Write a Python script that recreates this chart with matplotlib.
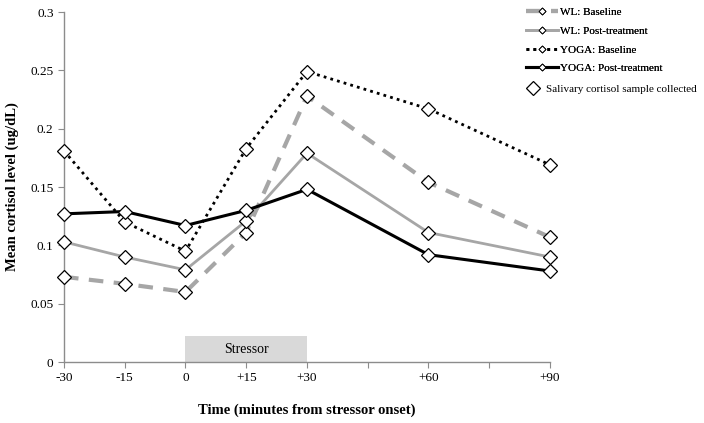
import matplotlib.pyplot as plt
from matplotlib.lines import Line2D
from matplotlib.patches import Rectangle

plt.rcParams["font.family"] = ["Liberation Serif", "DejaVu Serif"]

# Zeitpunkte (Minuten ab Stressor-Beginn)
zeit = [-30, -15, 0, 15, 30, 60, 90]
tick_pos = [-30, -15, 0, 15, 30, 45, 60, 75, 90]
tick_labels = ["-30", "-15", "0", "+15", "+30", "", "+60", "", "+90"]

# Mittelwerte Cortisol (ug/dL)
wl_baseline = [0.073, 0.067, 0.060, 0.111, 0.228, 0.154, 0.107]
wl_post = [0.103, 0.090, 0.079, 0.121, 0.179, 0.111, 0.090]
yoga_baseline = [0.181, 0.120, 0.095, 0.183, 0.249, 0.217, 0.169]
yoga_post = [0.127, 0.129, 0.117, 0.130, 0.148, 0.092, 0.078]

stressor_start, stressor_end, stressor_hoehe = 0, 30, 0.022

grau = "#a6a6a6"
achse = "#8c8c8c"

fig = plt.figure(figsize=(7.04, 4.23), dpi=100)
ax = fig.add_axes([0.0909, 0.1442, 0.6903, 0.8274])

# Stressor-Balken
ax.add_patch(Rectangle((stressor_start, 0), stressor_end - stressor_start, stressor_hoehe,
                       facecolor="#d9d9d9", edgecolor="none", zorder=1))
ax.text((stressor_start + stressor_end) / 2, stressor_hoehe / 2, "Stressor",
        ha="center", va="center", fontsize=10, zorder=2)

mk = dict(marker="D", markersize=7, markerfacecolor="white", markeredgecolor="black",
          markeredgewidth=0.9, clip_on=False, zorder=3)

ax.plot(zeit, wl_baseline, color=grau, lw=3, linestyle=(0, (3.5, 2.5)), **mk)
ax.plot(zeit, wl_post, color=grau, lw=2, linestyle="-", **mk)
ax.plot(zeit, yoga_baseline, color="black", lw=2, linestyle=(0, (1, 1.5)), **mk)
ax.plot(zeit, yoga_post, color="black", lw=2.2, linestyle="-", **mk)

ax.set_xlim(-30, 90)
ax.set_ylim(0, 0.3)
ax.set_xticks(tick_pos)
ax.set_xticklabels(tick_labels)
ax.set_yticks([0, 0.05, 0.1, 0.15, 0.2, 0.25, 0.3])
ax.set_yticklabels(["0", "0.05", "0.1", "0.15", "0.2", "0.25", "0.3"])
ax.tick_params(axis="both", labelsize=9.5, length=4, color=achse, direction="out")

for s in ["top", "right"]:
    ax.spines[s].set_visible(False)
for s in ["left", "bottom"]:
    ax.spines[s].set_color(achse)
    ax.spines[s].set_linewidth(1)

ax.set_ylabel("Mean cortisol level (ug/dL)", fontsize=10.5, fontweight="bold", labelpad=8)
ax.set_xlabel("Time (minutes from stressor onset)", fontsize=10.5, fontweight="bold", labelpad=14)

lmk = dict(marker="D", markersize=3.5, markerfacecolor="white", markeredgecolor="black",
           markeredgewidth=0.7)
handles = [
    Line2D([], [], color=grau, lw=3, linestyle=(0, (3.5, 2.5)), **lmk),
    Line2D([], [], color=grau, lw=2, **lmk),
    Line2D([], [], color="black", lw=2, linestyle=(0, (1, 1.5)), **lmk),
    Line2D([], [], color="black", lw=2.2, **lmk),
]
labels = ["WL: Baseline", "WL: Post-treatment", "YOGA: Baseline", "YOGA: Post-treatment"]
leg1 = fig.legend(handles, labels, loc="upper left", bbox_to_anchor=(0.733, 1.006),
                  frameon=False, fontsize=8, handlelength=2.9, handletextpad=0.2,
                  labelspacing=0.8)

sample = Line2D([], [], color="none", marker="D", markersize=7, markerfacecolor="white",
                markeredgecolor="black", markeredgewidth=0.9)
fig.legend([sample], ["Salivary cortisol sample collected"], loc="upper left",
           bbox_to_anchor=(0.733, 0.825), frameon=False, fontsize=8,
           handlelength=1.2, handletextpad=0.6)
fig.add_artist(leg1)

fig.savefig("out.png", dpi=100)
